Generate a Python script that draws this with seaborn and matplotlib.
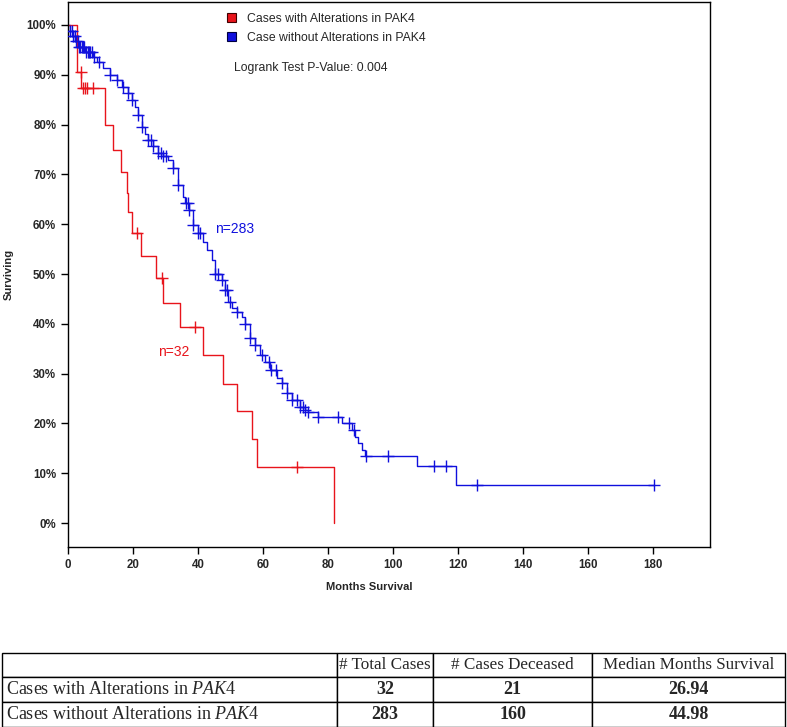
import numpy as np
import matplotlib
matplotlib.use("Agg")
import matplotlib.pyplot as plt
from matplotlib.patches import Patch
from matplotlib.ticker import PercentFormatter
import seaborn as sns

# Kaplan-Meier steps (months, % surviving)
red_t = [0, 2.8, 4.1, 11.4, 13.7, 16.2, 18.0, 18.6, 19.6, 22.4, 27.1, 29.1,
         34.5, 41.4, 47.6, 52.1, 56.6, 58.2, 81.9]
red_s = [100, 90.6, 87.4, 79.9, 74.8, 70.5, 66.3, 62.5, 58.2, 53.6, 49.1, 44.2,
         39.3, 33.7, 28.0, 22.5, 16.8, 11.3, 0]
red_cens = [4.0, 4.7, 5.3, 5.7, 7.8, 21.1, 28.8, 39.1, 70.6]

blue_t = [0, 0.6, 1.6, 2.2, 3.2, 5.2, 7.7, 8.8, 10.9, 12.9, 15.0, 16.5, 18.6,
          19.6, 20.6, 21.6, 22.7, 23.7, 24.7, 26.2, 27.8, 29.3, 30.9, 32.4,
          33.9, 35.5, 36.0, 37.3, 38.6, 40.1, 41.6, 42.7, 44.2, 45.2, 47.3,
          48.3, 49.3, 50.5, 51.9, 53.4, 54.5, 56.0, 57.5, 59.1, 60.6, 62.2,
          64.2, 65.8, 67.3, 68.8, 71.4, 72.9, 73.9, 77.0, 84.2, 87.3, 88.3,
          89.3, 90.4, 91.4, 107.3, 119.3, 180.3]
blue_s = [100, 98.7, 97.7, 96.7, 95.6, 94.6, 93.6, 92.6, 91.3, 90.0, 89.0,
          87.6, 86.3, 85.0, 83.5, 82.0, 79.6, 78.2, 76.9, 75.6, 74.2, 73.6,
          72.9, 71.2, 67.9, 65.5, 64.2, 62.9, 59.8, 58.2, 56.5, 54.8, 52.8,
          50.1, 48.8, 46.8, 44.4, 43.1, 42.4, 41.4, 40.0, 37.1, 35.7, 33.7,
          32.4, 30.7, 29.1, 28.1, 26.1, 24.8, 23.4, 22.7, 22.3, 21.3, 20.1,
          18.7, 17.3, 16.0, 14.7, 13.5, 11.5, 7.6, 7.6]
blue_cens = [0.6, 1.2, 1.6, 2.0, 2.5, 3.0, 3.4, 3.8, 4.2, 4.6, 5.0, 5.5, 6.0,
             6.4, 6.9, 7.3, 8.0, 9.5, 12.9, 15.0, 17.0, 18.6, 19.6, 21.6, 22.7,
             24.7, 25.5, 26.2, 27.8, 28.5, 29.3, 30.3, 32.4, 33.9, 36.2, 36.8,
             37.3, 38.6, 40.1, 40.6, 45.2, 46.2, 47.3, 48.3, 49.0, 49.8, 51.9,
             54.5, 56.0, 57.5, 59.8, 61.8, 62.3, 64.0, 65.8, 67.3, 68.8, 70.5,
             71.4, 72.2, 72.9, 73.9, 77.0, 83.2, 86.3, 87.9, 91.7, 98.3, 112.6,
             116.2, 125.9, 180.3]

legend_labels = ["Cases with Alterations in PAK4", "Case without Alterations in PAK4"]
pvalue_text = "Logrank Test P-Value: 0.004"

table_header = ["", "# Total Cases", "# Cases Deceased", "Median Months Survival"]
table_rows = ["Cases with Alterations in $\\mathit{PAK4}$",
              "Cases without Alterations in $\\mathit{PAK4}$"]
total_cases = ["32", "283"]
deceased = ["21", "160"]
median_months = ["26.94", "44.98"]

RED = "#e8141b"
BLUE = "#1010dd"

sns.set_style("white")
plt.rcParams["font.family"] = ["Liberation Sans", "DejaVu Sans"]
plt.rcParams["mathtext.fontset"] = "custom"
plt.rcParams["mathtext.rm"] = "Liberation Serif"
plt.rcParams["mathtext.it"] = "Liberation Serif:italic"


def level_at(times, surv, c):
    idx = np.searchsorted(times, c, side="right") - 1
    return np.array(surv)[idx]


fig = plt.figure(figsize=(7.87, 7.27), dpi=100)
ax = fig.add_axes([68 / 787, 1 - 547 / 727, 642 / 787, 545 / 727])

sns.lineplot(x=blue_t, y=blue_s, ax=ax, color=BLUE, linewidth=1,
             drawstyle="steps-post", estimator=None, sort=False)
sns.lineplot(x=red_t, y=red_s, ax=ax, color=RED, linewidth=1,
             drawstyle="steps-post", estimator=None, sort=False)
sns.scatterplot(x=blue_cens, y=level_at(blue_t, blue_s, blue_cens), ax=ax,
                marker="+", color=BLUE, s=80, linewidth=1, zorder=3)
sns.scatterplot(x=red_cens, y=level_at(red_t, red_s, red_cens), ax=ax,
                marker="+", color=RED, s=70, linewidth=1, zorder=3)

ax.set_xlim(0, 197.5)
ax.set_ylim(-4.8, 104.6)
ax.set_xticks(np.arange(0, 181, 20))
ax.set_yticks(np.arange(0, 101, 10))
ax.yaxis.set_major_formatter(PercentFormatter(decimals=0))
ax.tick_params(axis="both", direction="out", length=5, width=1, color="black",
               labelsize=8.3, bottom=True, left=True)
for lab in ax.get_xticklabels() + ax.get_yticklabels():
    lab.set_fontweight("bold")
for sp in ax.spines.values():
    sp.set_color("black")
    sp.set_linewidth(1)

ax.set_xlabel("Months Survival", fontsize=8, fontweight="bold")
ax.set_ylabel("Surviving", fontsize=8, fontweight="bold")
ax.xaxis.set_label_coords(0.469, -0.064)
ax.yaxis.set_label_coords(-0.085, 0.5)

handles = [Patch(facecolor=RED, edgecolor="#400000", linewidth=0.8),
           Patch(facecolor=BLUE, edgecolor="#000040", linewidth=0.8)]
ax.legend(handles, legend_labels, loc="upper left", bbox_to_anchor=(0.247, 0.98),
          frameon=False, fontsize=8.8, handlelength=0.75, handleheight=0.75,
          handletextpad=0.9, labelspacing=0.55, borderpad=0, borderaxespad=0)
ax.text(0.2586, 0.879, pvalue_text, transform=ax.transAxes, fontsize=8.8,
        va="center", ha="left")
ax.text(45.2, 59.0, "n=283", color=BLUE, fontsize=10, va="center", ha="left")
ax.text(27.7, 34.3, "n=32", color=RED, fontsize=10, va="center", ha="left")

# summary table under the chart
tax = fig.add_axes([2 / 787, 0.5 / 727, 783 / 787, 74 / 727])
tax.axis("off")
cell_text = [[table_rows[i], total_cases[i], deceased[i], median_months[i]]
             for i in range(len(table_rows))]
tbl = tax.table(cellText=cell_text, colLabels=table_header,
                colWidths=[335 / 783, 96 / 783, 159 / 783, 193 / 783],
                cellLoc="center", bbox=[0, 0, 1, 1])
tbl.auto_set_font_size(False)
for (r, c), cell in tbl.get_celld().items():
    cell.set_linewidth(1)
    cell.set_edgecolor("black")
    cell.set_text_props(fontfamily="Liberation Serif",
                        fontsize=12.3 if r == 0 else 13,
                        fontweight="bold" if (r > 0 and c > 0) else "normal")
    if c == 0:
        cell.set_text_props(ha="left")
        cell.PAD = 0.012

fig.savefig("out.png", dpi=100)
